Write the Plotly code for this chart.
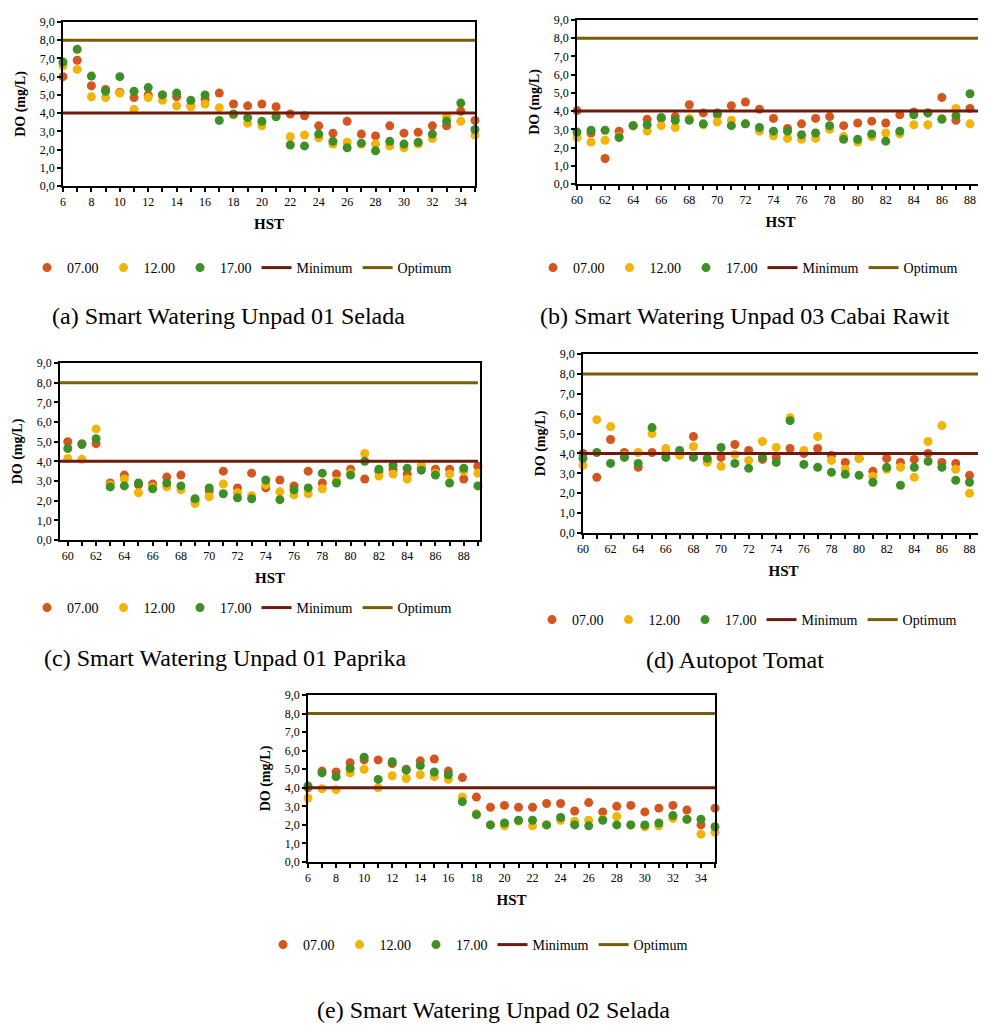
import plotly.graph_objects as go

# ---------------- data ----------------
hst_a = [6, 7, 8, 9, 10, 11, 12, 13, 14, 15, 16, 17, 18, 19, 20, 21, 22, 23, 24, 25, 26, 27, 28, 29, 30, 31, 32, 33, 34, 35]
a_07 = [6.0, 6.9, 5.5, 5.3, 5.15, 4.85, 5.0, 5.0, 4.9, 4.4, 4.75, 5.1, 4.5, 4.4, 4.5, 4.35, 3.95, 3.85, 3.3, 2.9, 3.55, 2.85, 2.75, 3.3, 2.9, 2.95, 3.3, 3.3, 4.1, 3.6]
a_12 = [6.6, 6.4, 4.9, 4.85, 5.1, 4.2, 4.85, 4.7, 4.4, 4.35, 4.5, 4.3, 3.9, 3.45, 3.3, 3.9, 2.7, 2.8, 2.65, 2.3, 2.4, 2.3, 2.3, 2.2, 2.1, 2.3, 2.6, 3.8, 3.55, 2.8]
a_17 = [6.8, 7.5, 6.03, 5.2, 6.0, 5.2, 5.4, 5.0, 5.1, 4.7, 5.0, 3.6, 3.95, 3.75, 3.55, 3.8, 2.25, 2.2, 2.85, 2.45, 2.1, 2.35, 1.93, 2.45, 2.3, 2.4, 2.85, 3.55, 4.55, 3.1]

hst_b = [60, 61, 62, 63, 64, 65, 66, 67, 68, 69, 70, 71, 72, 73, 74, 75, 76, 77, 78, 79, 80, 81, 82, 83, 84, 85, 86, 87, 88, 89]
b_07 = [4.03, 2.8, 1.4, 2.9, 3.2, 3.55, 3.6, 3.7, 4.35, 3.9, 3.8, 4.3, 4.5, 4.1, 3.6, 3.05, 3.3, 3.6, 3.7, 3.2, 3.35, 3.45, 3.35, 3.8, 3.95, 3.9, 4.75, 3.5, 4.15, 3.9]
b_12 = [2.55, 2.3, 2.4, 2.6, 3.2, 2.9, 3.2, 3.1, 3.6, 3.25, 3.4, 3.5, 3.3, 2.9, 2.65, 2.5, 2.45, 2.5, 3.0, 2.6, 2.3, 2.6, 2.8, 2.75, 3.25, 3.25, 3.6, 4.15, 3.3, 3.3]
b_17 = [2.85, 2.95, 2.95, 2.55, 3.2, 3.25, 3.65, 3.5, 3.5, 3.3, 3.9, 3.2, 3.3, 3.1, 2.9, 2.9, 2.7, 2.8, 3.2, 2.45, 2.45, 2.75, 2.35, 2.9, 3.8, 3.9, 3.55, 3.75, 4.95, 3.6]

hst_c = [60, 61, 62, 63, 64, 65, 66, 67, 68, 69, 70, 71, 72, 73, 74, 75, 76, 77, 78, 79, 80, 81, 82, 83, 84, 85, 86, 87, 88, 89]
c_07 = [5.0, 4.9, 4.9, 2.9, 3.3, 2.8, 2.85, 3.2, 3.3, 2.0, 2.5, 3.5, 2.65, 3.4, 2.65, 3.05, 2.75, 3.5, 2.9, 3.35, 3.6, 3.1, 3.5, 3.6, 3.35, 3.7, 3.6, 3.6, 3.1, 3.75]
c_12 = [4.15, 4.1, 5.65, 2.8, 3.1, 2.4, 2.7, 2.7, 2.55, 1.85, 2.2, 2.85, 2.4, 2.25, 2.8, 2.45, 2.3, 2.35, 2.6, 3.0, 3.4, 4.4, 3.25, 3.35, 3.1, 3.8, 3.4, 3.35, 3.5, 3.4]
c_17 = [4.65, 4.85, 5.15, 2.7, 2.75, 2.9, 2.6, 2.9, 2.75, 2.1, 2.65, 2.35, 2.15, 2.1, 3.05, 2.05, 2.55, 2.65, 3.4, 2.9, 3.3, 4.0, 3.6, 3.8, 3.65, 3.55, 3.3, 2.9, 3.65, 2.75]

hst_d = [60, 61, 62, 63, 64, 65, 66, 67, 68, 69, 70, 71, 72, 73, 74, 75, 76, 77, 78, 79, 80, 81, 82, 83, 84, 85, 86, 87, 88, 89]
d_07 = [4.0, 2.8, 4.7, 4.05, 3.3, 4.05, 4.0, 4.0, 4.85, 3.6, 3.8, 4.45, 4.15, 3.7, 3.8, 4.25, 4.0, 4.25, 3.9, 3.55, 3.75, 3.1, 3.75, 3.55, 3.7, 4.0, 3.55, 3.5, 2.9, 2.95]
d_12 = [3.4, 5.7, 5.35, 3.9, 4.05, 5.0, 4.25, 3.9, 4.35, 3.55, 3.35, 3.95, 3.65, 4.6, 4.3, 5.8, 4.15, 4.85, 3.65, 3.2, 3.75, 2.85, 3.2, 3.3, 2.8, 4.6, 5.4, 3.2, 2.0, 4.25]
d_17 = [3.75, 4.05, 3.5, 3.8, 3.5, 5.3, 3.8, 4.15, 3.8, 3.75, 4.3, 3.5, 3.25, 3.8, 3.55, 5.65, 3.45, 3.3, 3.05, 2.95, 2.9, 2.55, 3.3, 2.4, 3.3, 3.6, 3.3, 2.65, 2.55, 2.7]

hst_e = [6, 7, 8, 9, 10, 11, 12, 13, 14, 15, 16, 17, 18, 19, 20, 21, 22, 23, 24, 25, 26, 27, 28, 29, 30, 31, 32, 33, 34, 35]
e_07 = [4.0, 4.9, 4.85, 5.35, 5.5, 5.5, 5.3, 5.0, 5.45, 5.55, 4.9, 4.55, 3.5, 2.95, 3.05, 2.95, 2.95, 3.15, 3.15, 2.75, 3.2, 2.7, 3.0, 3.05, 2.7, 2.9, 3.05, 2.8, 2.0, 2.9]
e_12 = [3.45, 3.95, 3.9, 4.8, 5.0, 4.0, 4.65, 4.5, 4.7, 4.6, 4.45, 3.5, 2.6, 2.0, 1.95, 2.2, 1.95, 2.0, 2.25, 2.2, 2.25, 2.3, 2.45, 2.0, 1.9, 1.95, 2.35, 2.3, 1.5, 1.6]
e_17 = [4.1, 4.8, 4.6, 5.05, 5.65, 4.45, 5.4, 4.95, 5.2, 4.85, 4.7, 3.25, 2.55, 2.0, 2.1, 2.25, 2.25, 2.0, 2.4, 2.0, 1.95, 2.25, 2.0, 2.0, 2.0, 2.1, 2.5, 2.3, 2.3, 1.9]

series_names = ["07.00", "12.00", "17.00"]
minimum_do = 4.0
optimum_do = 8.0
y_ticks = [0, 1, 2, 3, 4, 5, 6, 7, 8, 9]

captions = [
    "(a) Smart Watering Unpad 01 Selada",
    "(b) Smart Watering Unpad 03 Cabai Rawit",
    "(c) Smart Watering Unpad 01 Paprika",
    "(d) Autopot Tomat",
    "(e) Smart Watering Unpad 02 Selada",
]

# ---------------- styles / layout ----------------
W, H = 986, 1027          # browser window
OFF = 8                   # default page body margin
FW, FH = W - OFF, H - OFF # figure size so that it ends at the window edges
FONT = "Liberation Serif"
C07, C12, C17 = "#D4561E", "#F3B409", "#3F8F27"
CMIN, COPT = "#6E1A0C", "#7A5C04"


def px_x(p):
    return (p - OFF) / FW


def px_y(p):
    return 1 - (p - OFF) / FH


panels = [
    dict(x=hst_a, v=(a_07, a_12, a_17), xd=(63, 475), yd=(22, 186), xr=(6, 35), t0=6,
         leg=(27, 268), cap=(228, 316)),
    dict(x=hst_b, v=(b_07, b_12, b_17), xd=(577, 984), yd=(20, 184), xr=(60, 89), t0=60,
         leg=(533, 268), cap=(745, 316)),
    dict(x=hst_c, v=(c_07, c_12, c_17), xd=(60, 480), yd=(363, 540), xr=(59.45, 89.15), t0=60,
         leg=(27, 608), cap=(225, 658)),
    dict(x=hst_d, v=(d_07, d_12, d_17), xd=(583, 984), yd=(354, 533), xr=(60, 89.05), t0=60,
         leg=(532, 620), cap=(735, 660)),
    dict(x=hst_e, v=(e_07, e_12, e_17), xd=(308, 715), yd=(695, 862), xr=(6, 35), t0=6,
         leg=(263, 945), cap=(493, 1010)),
]

fig = go.Figure()
layout = dict(
    width=FW, height=FH,
    margin=dict(l=0, r=0, t=0, b=0),
    paper_bgcolor="white", plot_bgcolor="white",
    separators=",.",
    font=dict(family=FONT, color="black"),
    annotations=[],
)

for i, p in enumerate(panels):
    n = "" if i == 0 else str(i + 1)
    xa, ya = "x" + n, "y" + n
    lg = "legend" + n
    for name, vals, col in zip(series_names, p["v"], (C07, C12, C17)):
        fig.add_trace(go.Scatter(
            x=p["x"], y=vals, mode="markers", name=name,
            marker=dict(color=col, size=9, line=dict(width=0)),
            xaxis=xa, yaxis=ya, legend=lg, cliponaxis=False,
        ))
    x_line = [p["xr"][0], p["x"][-1]]
    fig.add_trace(go.Scatter(
        x=x_line, y=[minimum_do, minimum_do], mode="lines", name="Minimum",
        line=dict(color=CMIN, width=3), xaxis=xa, yaxis=ya, legend=lg,
    ))
    fig.add_trace(go.Scatter(
        x=x_line, y=[optimum_do, optimum_do], mode="lines", name="Optimum",
        line=dict(color=COPT, width=3), xaxis=xa, yaxis=ya, legend=lg,
    ))

    layout["xaxis" + n] = dict(
        domain=[max(0, px_x(p["xd"][0])), min(1, px_x(p["xd"][1]))],
        anchor=ya, range=list(p["xr"]),
        tickmode="linear", tick0=p["t0"], dtick=2,
        ticks="outside", ticklen=4, tickwidth=1.5, tickcolor="black",
        minor=dict(dtick=1, tick0=p["t0"], ticks="outside", ticklen=4, tickwidth=1.5, tickcolor="black"),
        showgrid=False, zeroline=False,
        showline=True, mirror=True, linecolor="black", linewidth=1.5,
        tickfont=dict(family=FONT, size=12, color="black"),
        title=dict(text="<b>HST</b>", font=dict(family=FONT, size=15), standoff=10),
        automargin=False,
    )
    layout["yaxis" + n] = dict(
        domain=[px_y(p["yd"][1]), px_y(p["yd"][0])],
        anchor=xa, range=[0, 9],
        tickmode="array", tickvals=y_ticks, tickformat=".1f",
        ticks="outside", ticklen=4, tickwidth=1.5, tickcolor="black",
        showgrid=False, zeroline=False,
        showline=True, mirror=True, linecolor="black", linewidth=1.5,
        tickfont=dict(family=FONT, size=12, color="black"),
        title=dict(text="<b>DO (mg/L)</b>", font=dict(family=FONT, size=14), standoff=11),
        automargin=False,
    )
    layout[lg] = dict(
        orientation="h", x=px_x(p["leg"][0]), y=px_y(p["leg"][1]),
        xanchor="left", yanchor="middle",
        bgcolor="rgba(0,0,0,0)", font=dict(family=FONT, size=14, color="black"),
        itemsizing="trace", traceorder="normal",
    )
    layout["annotations"].append(dict(
        text=captions[i], x=px_x(p["cap"][0]), y=px_y(p["cap"][1]),
        xref="paper", yref="paper", xanchor="center", yanchor="middle",
        showarrow=False, font=dict(family=FONT, size=24, color="black"),
    ))

fig.update_layout(**layout)
fig.write_html("out.html")
